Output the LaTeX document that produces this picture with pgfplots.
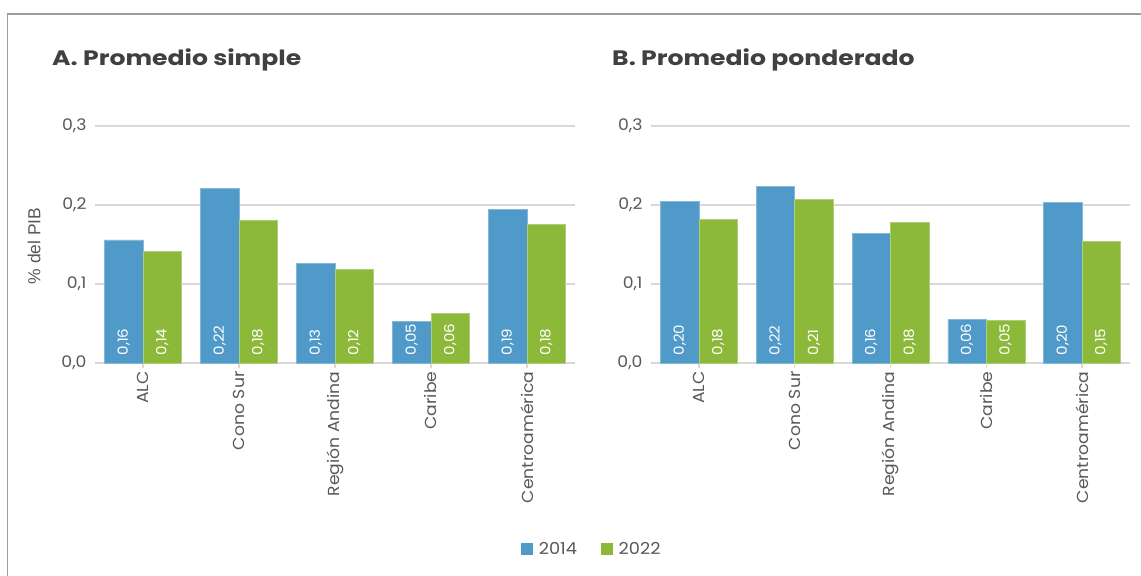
\documentclass[border=0pt]{standalone}
\usepackage{fontspec}
\setmainfont{Poppins}[FakeStretch=1.08]
\newfontfamily\titlefont{Poppins}[FakeStretch=1.2]
\newfontfamily\arialfont{Liberation Sans}
\usepackage{pgfplots}
\pgfplotsset{compat=1.18}
\definecolor{cblue}{HTML}{4F9AC8}
\definecolor{cgreen}{HTML}{8DB93A}
\definecolor{gridc}{HTML}{D9D9D9}
\definecolor{txt}{HTML}{595959}
\definecolor{ttl}{HTML}{404040}
\pgfplotsset{
 panel/.style={
  scale only axis, height=237bp, ymin=0, ymax=0.3, xmin=-0.5, xmax=4.5,
  ybar=0pt, bar width=38.5bp,
  axis x line*=bottom, axis y line*=left,
  x axis line style={draw=gridc, line width=1.3bp, -},
  y axis line style={draw=none},
  ymajorgrids, grid style={draw=gridc, line width=1.3bp},
  ytick={0,0.1,0.2,0.3},
  /pgf/number format/assume math mode=true,
  yticklabel={\pgfmathprintnumber[fixed,fixed zerofill,precision=1,use comma,assume math mode=true]{\tick}},
  ytick style={draw=none},
  xtick={0,...,4}, xticklabels={ALC,Cono Sur,Región Andina,Caribe,Centroamérica},
  xtick style={draw=gridc, line width=1.3bp}, major tick length=5bp, tick align=outside,
  xticklabel style={rotate=90, anchor=east, yshift=0bp},
  tick label style={font=\fontsize{16}{19}\selectfont, text=txt},
  nodes near coords={\pgfmathprintnumber[fixed,fixed zerofill,precision=2,use comma,assume math mode=true]{\pgfplotspointmeta}},
  visualization depends on={y \as \rawy},
  every node near coord/.append style={shift={(axis direction cs:0,-\rawy)}, rotate=90, anchor=west, xshift=4bp, font=\fontsize{14}{16}\selectfont, text=white},
  clip=false,
 },
 sblue/.style={fill=cblue, draw=cblue!70!white, line width=0.5bp},
 sgreen/.style={fill=cgreen, draw=cgreen!70!white, line width=0.5bp},
}
\begin{document}
\begin{tikzpicture}
\path[use as bounding box, fill=white] (0,0) rectangle (1141bp,-576bp);
\draw[color=black!38, line width=1.3bp] (7.5bp,-576bp) -- (7.5bp,-14bp) -- (1141bp,-14bp);
\node[anchor=base west, inner sep=0pt, font=\fontsize{21}{24}\titlefont\bfseries, text=ttl] at (52bp,-65.7bp) {A. Promedio simple};
\node[anchor=base west, inner sep=0pt, font=\fontsize{21}{24}\titlefont\bfseries, text=ttl] at (612bp,-65.7bp) {B. Promedio ponderado};
\begin{axis}[panel, at={(95bp,-363bp)}, anchor=south west, width=480bp,
  ylabel={\% del PIB},
  ylabel style={at={(axis description cs:-0.127,0.494)}, rotate=0, anchor=center, font=\fontsize{17.5}{20}\arialfont, text=txt},
  legend style={at={(1.035,-0.785)}, anchor=center, draw=none, fill=none, legend columns=2,
    font=\fontsize{16.5}{19}\selectfont, text=txt,
    /tikz/every odd column/.append style={column sep=4bp},
    /tikz/every even column/.append style={column sep=22bp}},
  legend image code/.code={\fill[#1, draw=none] (0bp,-5.8bp) rectangle (11.7bp,5.8bp);},
  ]
\addplot[sblue] coordinates {(0,0.156) (1,0.221) (2,0.126) (3,0.0523) (4,0.194)};
\addplot[sgreen] coordinates {(0,0.141) (1,0.1806) (2,0.1186) (3,0.0624) (4,0.1756)};
\legend{2014,2022}
\end{axis}
\begin{axis}[panel, at={(651bp,-363bp)}, anchor=south west, width=479bp]
\addplot[sblue] coordinates {(0,0.2046) (1,0.224) (2,0.164) (3,0.0555) (4,0.203)};
\addplot[sgreen] coordinates {(0,0.182) (1,0.2075) (2,0.178) (3,0.0535) (4,0.154)};
\end{axis}
\end{tikzpicture}
\end{document}
